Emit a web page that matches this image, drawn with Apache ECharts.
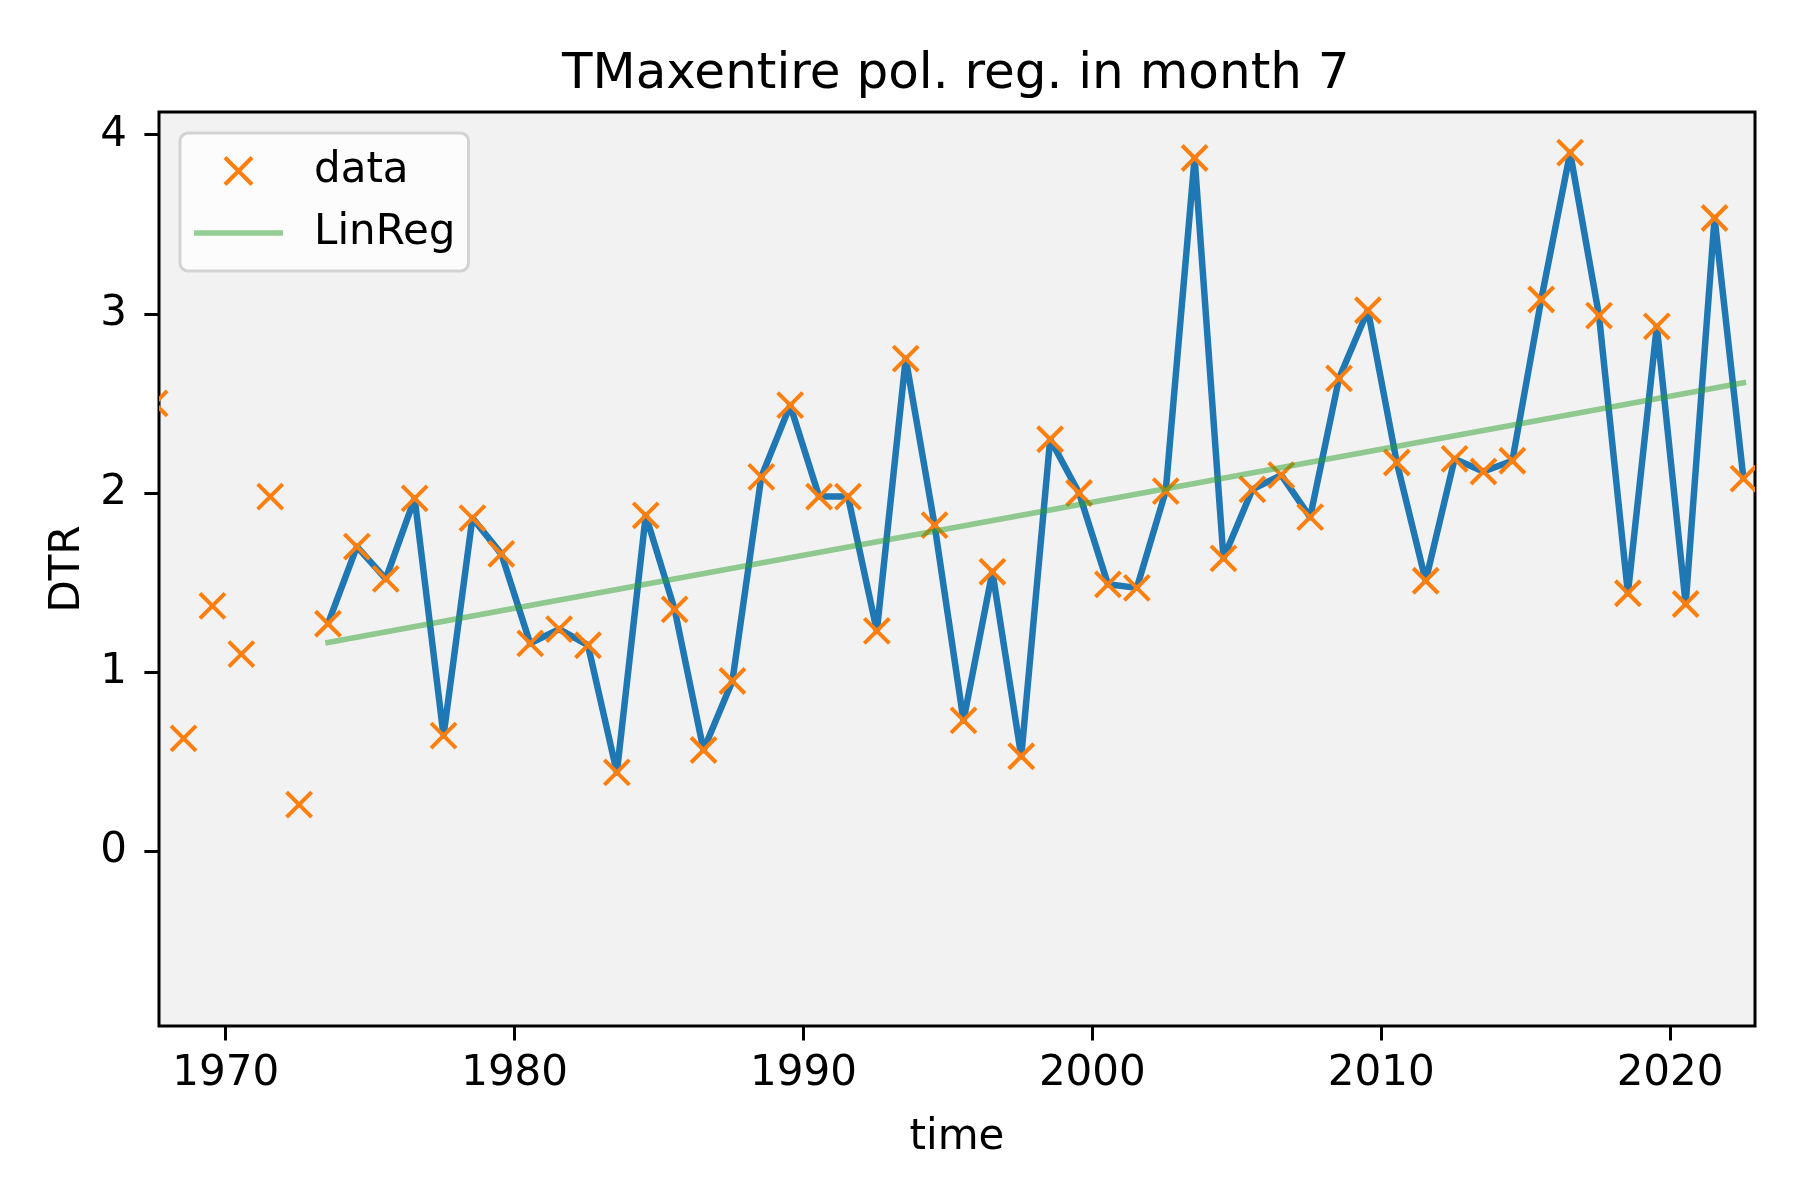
<!DOCTYPE html>
<html>
<head>
<meta charset="utf-8">
<script src="https://cdn.jsdelivr.net/npm/echarts@6/dist/echarts.min.js"></script>
<style>
  html, body { margin: 0; padding: 0; background: #ffffff; }
  #chart { width: 1800px; height: 1200px; }
</style>
</head>
<body>
<div id="chart"></div>
<script>
// ---- data ----
const years = [1967, 1968, 1969, 1970, 1971, 1972, 1973, 1974, 1975, 1976, 1977, 1978, 1979,
  1980, 1981, 1982, 1983, 1984, 1985, 1986, 1987, 1988, 1989, 1990, 1991, 1992, 1993, 1994,
  1995, 1996, 1997, 1998, 1999, 2000, 2001, 2002, 2003, 2004, 2005, 2006, 2007, 2008, 2009,
  2010, 2011, 2012, 2013, 2014, 2015, 2016, 2017, 2018, 2019, 2020, 2021, 2022];
const dtrValues = [2.50, 0.63, 1.37, 1.10, 1.98, 0.26, 1.27, 1.70, 1.52, 1.97, 0.645, 1.86, 1.66,
  1.16, 1.24, 1.15, 0.44, 1.875, 1.35, 0.565, 0.95, 2.09, 2.49, 1.98, 1.98, 1.23, 2.75, 1.82,
  0.73, 1.56, 0.53, 2.30, 2.00, 1.49, 1.47, 2.01, 3.87, 1.635, 2.02, 2.10, 1.865, 2.64, 3.02,
  2.17, 1.51, 2.19, 2.12, 2.18, 3.08, 3.90, 2.99, 1.44, 2.93, 1.38, 3.535, 2.08];
const midJuly = 0.54;            // observations are dated mid-July of each year
const lineStartYear = 1973;      // the connected line starts here
const linRegX = [1973.54, 2022.54];
const linRegY = [1.165, 2.615];
const xTicks = [1970, 1980, 1990, 2000, 2010, 2020];
const yTicks = [0, 1, 2, 3, 4];
const xLimits = [1967.69, 2022.94];
const yLimits = [-0.976, 4.127];

// ---- derived series data ----
const points = years.map((y, i) => [y + midJuly, dtrValues[i]]);
const linePoints = points.filter((p, i) => years[i] >= lineStartYear);
const regPoints = linRegX.map((x, i) => [x, linRegY[i]]);

const FONT = 'DejaVu Sans';
const BLUE = '#1f77b4', ORANGE = '#ff7f0e', GREEN = 'rgba(44,160,44,0.5)';
const plain = v => String(v);

const chart = echarts.init(document.getElementById('chart'), null, { renderer: 'canvas' });
chart.setOption({
  animation: false,
  backgroundColor: '#ffffff',
  title: {
    text: 'TMaxentire pol. reg. in month 7',
    left: 557, top: 45,
    textStyle: { fontFamily: FONT, fontSize: 50, fontWeight: 'normal', color: '#000' }
  },
  grid: {
    left: 159, right: 45, top: 112, bottom: 174,
    show: true, backgroundColor: '#f2f2f2', borderColor: '#000', borderWidth: 3
  },
  legend: {
    orient: 'vertical',
    left: 180, top: 133,
    padding: [17, 13, 17, 14],
    itemWidth: 89, itemHeight: 27, itemGap: 20,
    backgroundColor: 'rgba(252,252,252,1)',
    borderColor: '#d3d3d3', borderWidth: 3, borderRadius: 8,
    selectedMode: false,
    textStyle: { fontFamily: FONT, fontSize: 42, color: '#000', padding: [0, 0, 0, 26] },
    data: [
      { name: 'data', icon: 'path://M0,0L10,10M0,10L10,0',
        itemStyle: { color: ORANGE, borderColor: ORANGE, borderWidth: 4 } },
      { name: 'LinReg', icon: 'path://M0,0H16V1H0Z',
        itemStyle: { color: GREEN, borderWidth: 0 } }
    ]
  },
  xAxis: {
    type: 'value', min: xLimits[0], max: xLimits[1],
    name: 'time', nameLocation: 'middle', nameGap: 91,
    nameTextStyle: { fontFamily: FONT, fontSize: 42, color: '#000' },
    axisLine: { show: false, onZero: false },
    splitLine: { show: false },
    axisTick: { show: true, length: 14.6, customValues: xTicks, lineStyle: { color: '#000', width: 3 } },
    axisLabel: { customValues: xTicks, formatter: plain, margin: 27, fontFamily: FONT, fontSize: 42, color: '#000' }
  },
  yAxis: {
    type: 'value', min: yLimits[0], max: yLimits[1],
    name: 'DTR', nameLocation: 'middle', nameGap: 68, nameRotate: 90,
    nameTextStyle: { fontFamily: FONT, fontSize: 42, color: '#000' },
    axisLine: { show: false, onZero: false },
    splitLine: { show: false },
    axisTick: { show: true, length: 14.6, customValues: yTicks, lineStyle: { color: '#000', width: 3 } },
    axisLabel: { customValues: yTicks, formatter: plain, margin: 32, fontFamily: FONT, fontSize: 42, color: '#000' }
  },
  series: [
    {
      name: 'DTR line', type: 'line', data: linePoints,
      symbol: 'none', showSymbol: false,
      lineStyle: { color: BLUE, width: 6.5, join: 'round' },
      itemStyle: { color: BLUE },
      z: 2
    },
    {
      name: 'data', type: 'custom', clip: true, data: points,
      itemStyle: { color: ORANGE },
      z: 3,
      renderItem: function (params, api) {
        const c = api.coord([api.value(0), api.value(1)]);
        const h = 12.5;
        const st = { stroke: ORANGE, lineWidth: 4, fill: null };
        return {
          type: 'group',
          children: [
            { type: 'line', shape: { x1: c[0] - h, y1: c[1] - h, x2: c[0] + h, y2: c[1] + h }, style: st },
            { type: 'line', shape: { x1: c[0] - h, y1: c[1] + h, x2: c[0] + h, y2: c[1] - h }, style: st }
          ]
        };
      }
    },
    {
      name: 'LinReg', type: 'line', data: regPoints,
      symbol: 'none', showSymbol: false,
      lineStyle: { color: GREEN, width: 5.5, cap: 'square' },
      itemStyle: { color: GREEN },
      z: 4
    }
  ]
});
</script>
</body>
</html>
